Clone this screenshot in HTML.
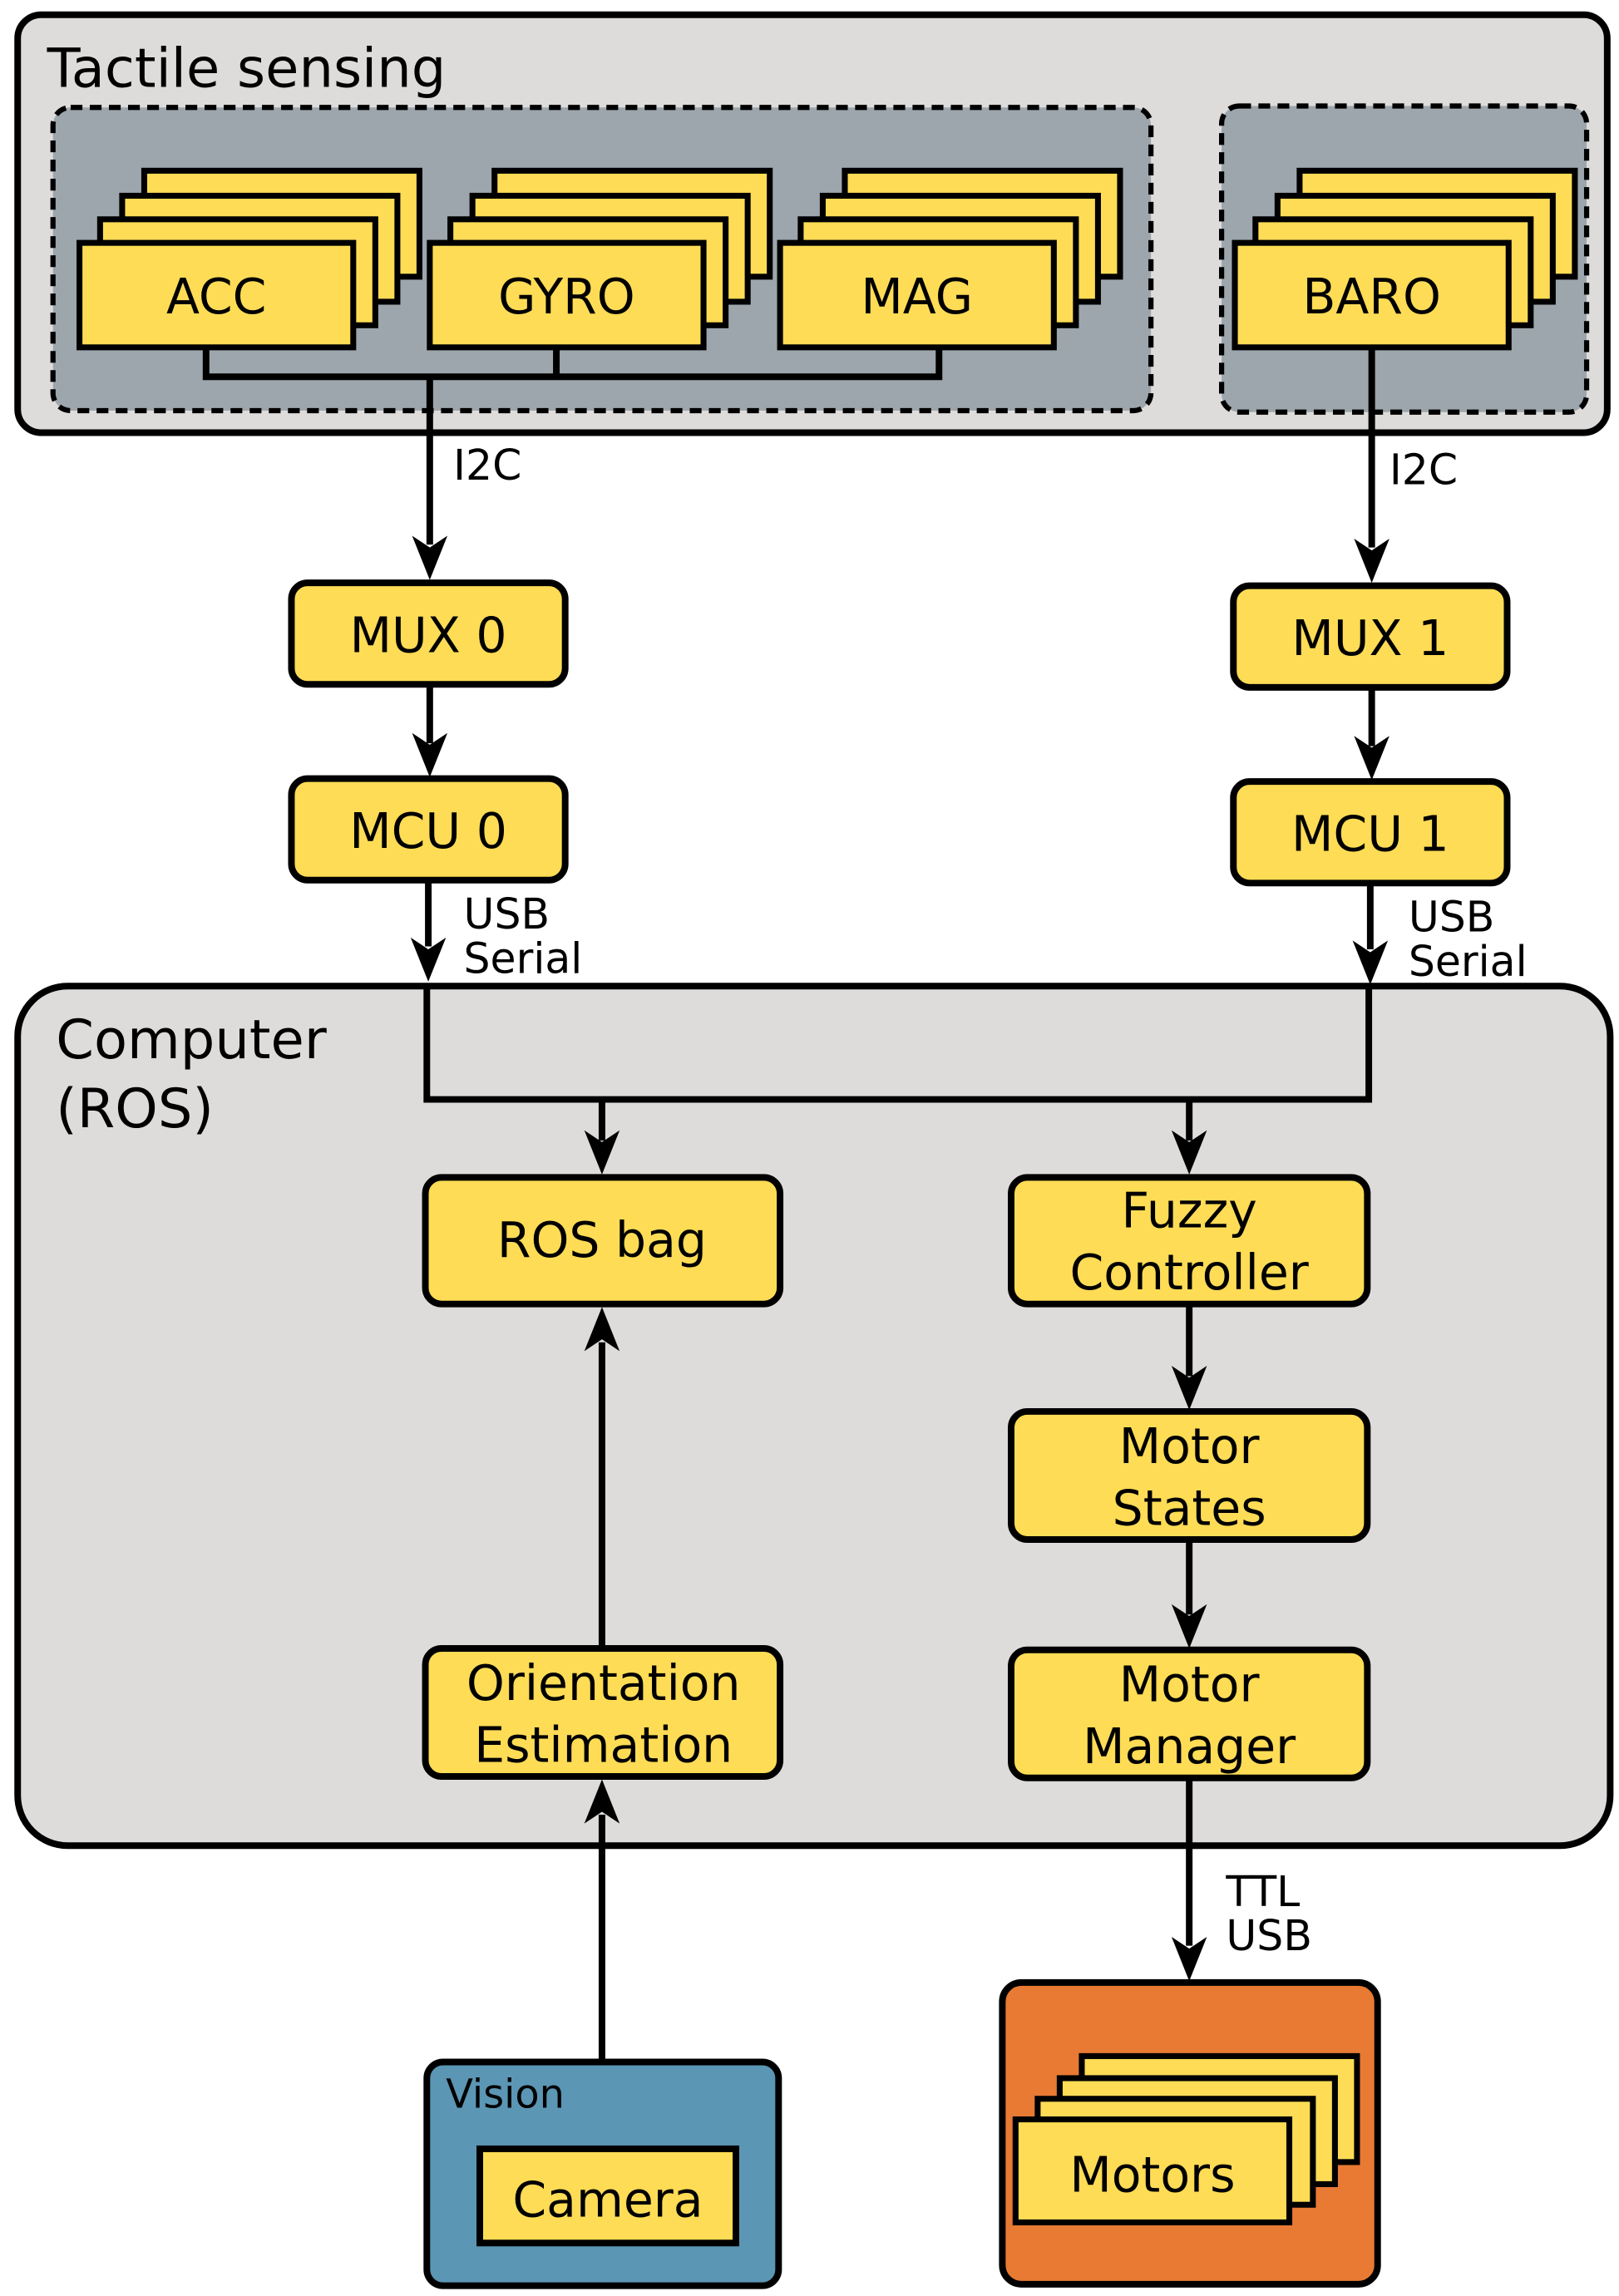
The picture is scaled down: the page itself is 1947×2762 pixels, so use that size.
<!DOCTYPE html>
<html><head><meta charset="utf-8"><style>html,body{margin:0;padding:0;background:#fff}svg{display:block}text{font-family:"DejaVu Sans","Liberation Sans",sans-serif;fill:#000}</style></head><body>
<svg width="1947" height="2762" viewBox="0 0 1100 1560" preserveAspectRatio="none" xmlns="http://www.w3.org/2000/svg">
<defs>
<path id="ah" d="M0,0 L-12,-30 L0,-22 L12,-30 Z" fill="#000"/>
</defs>
<rect x="12" y="10" width="1080" height="284" rx="16" fill="#dedcda" stroke="#000" stroke-width="4.5"/>
<text x="32" y="59" font-size="37">Tactile sensing</text>
<rect x="36" y="73" width="746" height="206" rx="12" fill="#9ca6ac" stroke="#000" stroke-width="3.5" stroke-dasharray="8,5"/>
<rect x="830" y="72" width="248" height="208" rx="12" fill="#9ca6ac" stroke="#000" stroke-width="3.5" stroke-dasharray="8,5"/>
<g fill="#fedc55" stroke="#000" stroke-width="4">
<rect x="98" y="116" width="187" height="72"/><rect x="83" y="133" width="187" height="72"/><rect x="68" y="149" width="187" height="72"/><rect x="54" y="165" width="186" height="71"/>
<rect x="336" y="116" width="187" height="72"/><rect x="321" y="133" width="187" height="72"/><rect x="306" y="149" width="187" height="72"/><rect x="292" y="165" width="186" height="71"/>
<rect x="574" y="116" width="187" height="72"/><rect x="559" y="133" width="187" height="72"/><rect x="544" y="149" width="187" height="72"/><rect x="530" y="165" width="186" height="71"/>
<rect x="883" y="116" width="187" height="72"/><rect x="868" y="133" width="187" height="72"/><rect x="853" y="149" width="187" height="72"/><rect x="839" y="165" width="186" height="71"/>
</g>
<g font-size="33" text-anchor="middle">
<text x="147" y="213">ACC</text><text x="385" y="213">GYRO</text><text x="623" y="213">MAG</text><text x="932" y="213">BARO</text>
</g>
<g stroke="#000" stroke-width="4.5" fill="none">
<path d="M140,236 V256 H638 V236 M378,236 V256"/>
<path d="M292,256 V370"/>
<path d="M932,236 V372"/>
<path d="M292,465 V505"/>
<path d="M932,467 V507"/>
<path d="M291,598 V643"/>
<path d="M931,600 V645"/>
</g>
<use href="#ah" x="292" y="394"/>
<use href="#ah" x="932" y="396"/>
<use href="#ah" x="292" y="528"/>
<use href="#ah" x="932" y="530"/>
<g font-size="28.5">
<text x="308" y="326">I2C</text><text x="944" y="329">I2C</text>
<text x="315" y="631">USB</text><text x="315" y="661">Serial</text>
<text x="957" y="633">USB</text><text x="957" y="663">Serial</text>
</g>
<g fill="#fedc55" stroke="#000" stroke-width="4.5">
<rect x="198" y="396" width="186" height="69" rx="11"/>
<rect x="838" y="398" width="186" height="69" rx="11"/>
<rect x="198" y="529" width="186" height="69" rx="11"/>
<rect x="838" y="531" width="186" height="69" rx="11"/>
</g>
<g font-size="33" text-anchor="middle">
<text x="291" y="443">MUX 0</text><text x="931" y="445">MUX 1</text>
<text x="291" y="576">MCU 0</text><text x="931" y="578">MCU 1</text>
</g>
<rect x="12" y="670" width="1082" height="584" rx="34" fill="#dedcda" stroke="#000" stroke-width="4.5"/>
<use href="#ah" x="291" y="667"/>
<use href="#ah" x="931" y="669"/>
<text x="38" y="719" font-size="37">Computer</text>
<text x="38" y="766" font-size="37">(ROS)</text>
<g stroke="#000" stroke-width="4.5" fill="none">
<path d="M290,670 V747 H930 V670"/>
<path d="M409,747 V775"/>
<path d="M808,747 V775"/>
<path d="M808,886 V935"/>
<path d="M808,1046 V1097"/>
<path d="M409,1120 V912"/>
<path d="M409,1400 V1233"/>
<path d="M808,1208 V1322"/>
</g>
<use href="#ah" x="409" y="798"/>
<use href="#ah" x="808" y="798"/>
<use href="#ah" x="808" y="958"/>
<use href="#ah" x="808" y="1120"/>
<use href="#ah" x="409" y="888" transform="rotate(180 409 888)"/>
<use href="#ah" x="409" y="1209" transform="rotate(180 409 1209)"/>
<use href="#ah" x="808" y="1346"/>
<g fill="#fedc55" stroke="#000" stroke-width="4.5">
<rect x="289" y="800" width="241" height="86" rx="11"/>
<rect x="687" y="800" width="242" height="86" rx="11"/>
<rect x="687" y="959" width="242" height="87" rx="11"/>
<rect x="687" y="1121" width="242" height="87" rx="11"/>
<rect x="289" y="1120" width="241" height="87" rx="11"/>
</g>
<g font-size="33" text-anchor="middle">
<text x="409" y="854">ROS bag</text>
<text x="808" y="834">Fuzzy</text><text x="808" y="876">Controller</text>
<text x="808" y="994">Motor</text><text x="808" y="1036">States</text>
<text x="808" y="1156">Motor</text><text x="808" y="1198">Manager</text>
<text x="410" y="1155">Orientation</text><text x="410" y="1197">Estimation</text>
</g>
<g font-size="28.5"><text x="833" y="1295">TTL</text><text x="833" y="1325">USB</text></g>
<rect x="290" y="1401" width="239" height="152" rx="11" fill="#5b96b4" stroke="#000" stroke-width="4.5"/>
<text x="303" y="1432" font-size="27">Vision</text>
<rect x="326" y="1460" width="174" height="64" fill="#fedc55" stroke="#000" stroke-width="4.5"/>
<text x="413" y="1506" font-size="33" text-anchor="middle">Camera</text>
<rect x="681" y="1347" width="255" height="205" rx="13" fill="#e87a33" stroke="#000" stroke-width="4.5"/>
<g fill="#fedc55" stroke="#000" stroke-width="4">
<rect x="735" y="1397" width="187" height="72"/><rect x="720" y="1412" width="187" height="72"/><rect x="705" y="1426" width="187" height="72"/><rect x="690" y="1440" width="186" height="70"/>
</g>
<text x="783" y="1489" font-size="33" text-anchor="middle">Motors</text>
</svg>
</body></html>
